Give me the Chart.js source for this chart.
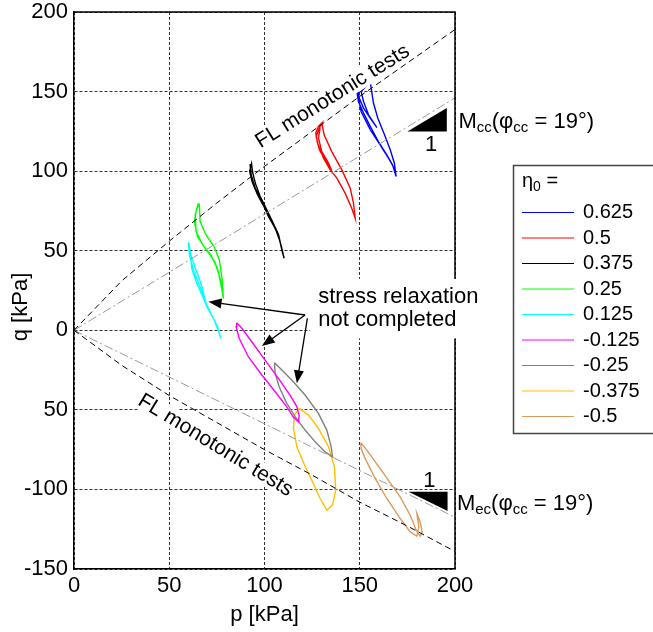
<!DOCTYPE html>
<html lang="en">
<head>
  <meta charset="UTF-8">
  <title>Stress paths p-q</title>
  <script src="https://cdn.jsdelivr.net/npm/chart.js"></script>
  <style>
    html, body { margin: 0; padding: 0; background: #fff; }
    #wrap { width: 653px; height: 632px; position: relative; }
  </style>
</head>
<body>
<div id="wrap"><canvas id="pq"></canvas></div>
<script>
  // axes
  const xTickValues = [0, 50, 100, 150, 200];
  const yTickValues = [-150, -100, -50, 0, 50, 100, 150, 200];
  const yTickText = ['-150', '-100', '50', '0', '50', '100', '150', '200'];

  // legend
  const etaLabels = ['0.625', '0.5', '0.375', '0.25', '0.125', '-0.125', '-0.25', '-0.375', '-0.5'];
  const etaColors = ['#0000ff', '#ff0000', '#000000', '#00ff00', '#00ffff', '#ff00ff', '#808080', '#ffbf00', '#d99a5e'];

  // failure lines from monotonic tests, and the M lines (p, q)
  const flCompression = [[0, 0], [25, 31], [50, 56], [75, 80], [100, 103], [125, 125], [150, 147], [175, 168], [200, 189]];
  const flExtension = [[0, 0], [25, -22], [50, -41], [75, -58], [100, -75], [125, -91], [150, -108], [175, -123], [200, -139]];
  const mccLine = [[0, 0], [200, 146]];
  const mecLine = [[0, 0], [200, -117.5]];

  // stress paths (p, q)
  const path0625 = [[169.1, 96.6], [168.2, 105.0], [166.0, 113.4], [163.0, 122.8], [159.5, 133.3], [157.2, 142.8], [156.0, 152.2], [155.5, 156.0],
    [152.8, 153.8], [149.7, 151.1], [148.6, 149.1], [149.3, 143.8], [152.0, 136.5], [155.5, 128.1], [159.8, 118.6], [164.2, 110.3], [167.2, 104.0],
    [169.1, 96.6], [168.6, 100.8], [165.1, 108.2], [160.7, 116.5], [155.5, 126.0], [150.7, 137.5], [149.0, 148.0], [149.3, 150.5],
    [149.7, 145.9], [152.0, 139.6], [155.5, 133.3], [159.0, 127.4], [154.6, 135.4], [152.0, 143.8], [150.7, 150.1], [154.0, 154.3]];
  const path05 = [[130.1, 130.2], [131.3, 122.8], [135.3, 112.3], [140.6, 100.8], [145.0, 89.3], [146.7, 79.9], [147.6, 70.4],
    [145.8, 76.7], [142.3, 86.2], [138.0, 95.6], [134.5, 100.8], [131.0, 108.2], [127.8, 117.6], [126.9, 123.9], [128.3, 128.1], [130.1, 130.2],
    [128.6, 126.5], [127.1, 121.8], [128.8, 113.4], [132.4, 106.0], [135.3, 100.2], [133.6, 105.0], [130.1, 112.3], [128.3, 120.8], [129.2, 127.0]];
  const path0375 = [[92.4, 104.4], [93.0, 97.7], [95.1, 89.3], [98.6, 80.9], [102.1, 71.4], [105.6, 64.2], [108.2, 55.7], [110.3, 45.3],
    [109.2, 50.0], [107.4, 60.0], [104.3, 68.0], [100.9, 76.5], [97.6, 84.5], [95.3, 92.0], [93.8, 99.0], [93.2, 104.8],
    [92.2, 100.0], [93.6, 93.0], [96.4, 85.0], [100.0, 77.0], [103.2, 69.5], [106.6, 61.5], [108.8, 53.0], [110.3, 45.3]];
  const path025 = [[65.3, 79.9], [63.6, 72.5], [64.1, 62.0], [67.6, 53.6], [71.8, 47.4], [75.3, 39.0], [77.2, 28.5], [78.4, 20.1],
    [77.7, 32.7], [76.3, 44.2], [73.5, 52.6], [69.3, 59.9], [66.2, 68.3], [65.8, 78.8],
    [64.4, 76.7], [63.2, 68.3], [64.8, 58.9], [68.8, 51.6], [73.9, 43.1], [76.7, 32.7], [78.1, 22.2]];
  const path0125 = [[60.0, 55.3], [60.6, 47.4], [62.7, 37.9], [65.8, 28.5], [67.9, 22.2], [69.7, 15.9], [72.3, 9.6], [75.3, 2.3], [77.0, -5.0],
    [76.0, -0.9], [73.2, 7.5], [69.7, 14.8], [67.6, 21.1], [64.4, 29.6], [61.8, 39.0], [61.0, 49.4], [60.3, 54.8],
    [61.3, 47.4], [64.1, 37.9], [67.2, 27.4], [68.6, 20.1]];
  const pathM0125 = [[85.4, 4.8], [88.1, 1.3], [93.3, -7.2], [100.3, -18.7], [107.3, -30.2], [113.4, -40.7], [117.0, -48.1], [118.2, -53.9], [117.8, -57.5],
    [115.2, -54.7], [111.7, -48.1], [105.6, -38.6], [98.6, -28.1], [91.5, -16.6], [86.7, -5.0], [85.1, 2.3], [85.4, 4.8]];
  const pathM025 = [[105.2, -20.4], [108.2, -23.9], [114.3, -31.3], [121.3, -40.7], [128.3, -52.2], [132.7, -62.7], [135.0, -73.2], [135.7, -79.5],
    [131.8, -76.4], [126.6, -70.1], [121.3, -62.7], [116.1, -54.3], [111.7, -45.9], [107.7, -35.5], [105.6, -27.0], [105.2, -20.4]];
  const pathM0375 = [[118.2, -49.1], [115.7, -53.3], [115.2, -61.6], [117.0, -73.2], [121.0, -84.7], [125.2, -95.2], [129.2, -105.7], [132.7, -113.0],
    [135.7, -109.9], [137.4, -100.4], [136.7, -85.8], [133.6, -73.2], [128.3, -61.6], [123.1, -53.3], [118.2, -49.1]];
  const pathM05 = [[150.6, -70.7], [153.7, -75.3], [162.5, -89.9], [171.2, -104.7], [176.5, -116.2], [179.6, -125.6], [181.7, -129.4],
    [182.8, -126.7], [181.7, -120.4], [180.0, -115.1], [181.0, -123.5], [180.0, -129.4], [176.5, -126.7], [171.2, -118.2],
    [164.2, -105.7], [158.1, -93.1], [152.8, -80.5], [150.7, -74.2], [150.6, -70.7]];

  const paths = [path0625, path05, path0375, path025, path0125, pathM0125, pathM025, pathM0375, pathM05];

  const FONT = 'Liberation Sans, Arial, Helvetica, sans-serif';
  const toXY = arr => arr.map(d => ({ x: d[0], y: d[1] }));

  const datasets = [
    { label: 'FL', data: toXY(flCompression), borderColor: '#000', borderWidth: 1, borderDash: [6, 4] },
    { label: 'FL ext', data: toXY(flExtension), borderColor: '#000', borderWidth: 1, borderDash: [6, 4] },
    { label: 'Mcc', data: toXY(mccLine), borderColor: '#999', borderWidth: 1, borderDash: [9, 3, 2, 3] },
    { label: 'Mec', data: toXY(mecLine), borderColor: '#999', borderWidth: 1, borderDash: [9, 3, 2, 3] }
  ];
  paths.forEach((p, i) => {
    datasets.push({ label: etaLabels[i], data: toXY(p), borderColor: etaColors[i], borderWidth: 1.4 });
  });
  datasets.forEach(d => { d.showLine = true; d.pointRadius = 0; d.fill = false; d.tension = 0; });

  // text with a white box behind it
  function boxedText(ctx, txt, x, y, angle) {
    ctx.save();
    ctx.translate(x, y);
    ctx.rotate(angle * Math.PI / 180);
    const w = ctx.measureText(txt).width;
    ctx.fillStyle = '#fff';
    ctx.fillRect(-w / 2 - 2, -17, w + 4, 21);
    ctx.fillStyle = '#000';
    ctx.textAlign = 'center';
    ctx.textBaseline = 'alphabetic';
    ctx.fillText(txt, 0, 0);
    ctx.restore();
  }

  // text with subscripts: parts = [[text, isSub], ...]
  function richText(ctx, x, y, parts, size, subSize) {
    let cx = x;
    ctx.textAlign = 'left';
    ctx.textBaseline = 'alphabetic';
    parts.forEach(([t, sub]) => {
      ctx.font = (sub ? subSize : size) + 'px ' + FONT;
      ctx.fillText(t, cx, sub ? y + 4 : y);
      cx += ctx.measureText(t).width;
    });
  }

  function arrow(ctx, x1, y1, x2, y2) {
    const ang = Math.atan2(y2 - y1, x2 - x1);
    const L = 13, W = 5;
    ctx.beginPath();
    ctx.moveTo(x1, y1);
    ctx.lineTo(x2 - L * Math.cos(ang) * 0.8, y2 - L * Math.sin(ang) * 0.8);
    ctx.stroke();
    ctx.beginPath();
    ctx.moveTo(x2, y2);
    ctx.lineTo(x2 - L * Math.cos(ang) - W * Math.sin(ang), y2 - L * Math.sin(ang) + W * Math.cos(ang));
    ctx.lineTo(x2 - L * Math.cos(ang) + W * Math.sin(ang), y2 - L * Math.sin(ang) - W * Math.cos(ang));
    ctx.closePath();
    ctx.fill();
  }

  const overlay = {
    id: 'overlay',
    afterDraw(chart) {
      const ctx = chart.ctx, a = chart.chartArea;
      const X = v => chart.scales.x.getPixelForValue(v);
      const Y = v => chart.scales.y.getPixelForValue(v);
      ctx.save();

      // top and right of the box
      ctx.strokeStyle = '#000';
      ctx.lineWidth = 1.5;
      ctx.beginPath();
      ctx.moveTo(a.left, a.top);
      ctx.lineTo(a.right, a.top);
      ctx.lineTo(a.right, a.bottom);
      ctx.stroke();

      // FL labels
      ctx.font = '21px ' + FONT;
      boxedText(ctx, 'FL monotonic tests', X(137.4), Y(143.8), -32);
      boxedText(ctx, 'FL monotonic tests', X(72.6), Y(-75.4), 31.5);

      // stress relaxation note
      ctx.font = '22px ' + FONT;
      const tx = X(128.2), b1 = Y(17.2), b2 = Y(2.4);
      const tw = Math.max(ctx.measureText('stress relaxation').width, ctx.measureText('not completed').width);
      ctx.fillStyle = '#fff';
      ctx.fillRect(tx - 8, b1 - 24, tw + 14, b2 - b1 + 36);
      ctx.fillStyle = '#000';
      ctx.textAlign = 'left';
      ctx.fillText('stress relaxation', tx, b1);
      ctx.fillText('not completed', tx, b2);

      ctx.strokeStyle = '#000';
      ctx.fillStyle = '#000';
      ctx.lineWidth = 1.3;
      arrow(ctx, X(121.3), Y(9.6), X(70.6), Y(18.0));
      arrow(ctx, X(121.3), Y(9.6), X(98.6), Y(-9.9));
      arrow(ctx, X(122.5), Y(7.5), X(117.0), Y(-33.3));

      // slope triangles
      ctx.beginPath();
      ctx.moveTo(X(175), Y(124.9)); ctx.lineTo(X(195.7), Y(124.9)); ctx.lineTo(X(195.7), Y(139.6));
      ctx.closePath(); ctx.fill();
      ctx.beginPath();
      ctx.moveTo(X(175.6), Y(-101.5)); ctx.lineTo(X(196.1), Y(-101.5)); ctx.lineTo(X(196.1), Y(-113.5));
      ctx.closePath(); ctx.fill();

      ctx.font = '22px ' + FONT;
      ctx.textAlign = 'center';
      ctx.fillText('1', X(187.5), Y(112.5));
      ctx.fillText('1', X(186.5), Y(-98.4));
      richText(ctx, X(201.8), Y(127.0), [['M', 0], ['cc', 1], ['(\u03c6', 0], ['cc', 1], [' = 19\u00b0)', 0]], 22, 15);
      richText(ctx, X(201.0), Y(-113.0), [['M', 0], ['ec', 1], ['(\u03c6', 0], ['cc', 1], [' = 19\u00b0)', 0]], 22, 15);

      // axis titles
      ctx.font = '22px ' + FONT;
      ctx.textAlign = 'center';
      ctx.textBaseline = 'middle';
      ctx.fillText('p [kPa]', (a.left + a.right) / 2, 615);
      ctx.save();
      ctx.translate(21, 307);
      ctx.rotate(-Math.PI / 2);
      ctx.fillText('q [kPa]', 0, 0);
      ctx.restore();

      // legend
      ctx.strokeStyle = '#444';
      ctx.lineWidth = 1.5;
      ctx.strokeRect(513.5, 165.5, 200, 268);
      ctx.textBaseline = 'alphabetic';
      richText(ctx, 522, 187, [['\u03b7', 0], ['0', 1], [' =', 0]], 20, 14);
      ctx.font = '20px ' + FONT;
      ctx.textBaseline = 'middle';
      ctx.textAlign = 'left';
      etaLabels.forEach((lab, i) => {
        const y = 212.5 + i * 25.5;
        ctx.strokeStyle = etaColors[i];
        ctx.lineWidth = 1;
        ctx.beginPath();
        ctx.moveTo(522, y);
        ctx.lineTo(574, y);
        ctx.stroke();
        ctx.fillStyle = '#000';
        ctx.fillText(lab, 583, y);
      });
      ctx.restore();
    }
  };

  const ctx = document.getElementById('pq').getContext('2d');
  const chart = new Chart(ctx, {
    type: 'scatter',
    data: { datasets: datasets },
    options: {
      responsive: true,
      maintainAspectRatio: false,
      animation: false,
      devicePixelRatio: 1,
      layout: { padding: { left: 0, right: 198, top: 12, bottom: 0 } },
      plugins: { legend: { display: false }, tooltip: { enabled: false } },
      scales: {
        x: {
          type: 'linear', min: 0, max: 200,
          afterFit: s => { s.height = 63; s.paddingLeft = 0; s.paddingRight = 0; },
          ticks: { stepSize: 50, padding: 4, color: '#000', font: { family: FONT, size: 22 } },
          grid: { color: '#333', lineWidth: 1, drawTicks: false },
          border: { display: true, color: '#000', width: 1.5, dash: [3, 2] }
        },
        y: {
          type: 'linear', min: -150, max: 200,
          afterFit: s => { s.width = 74; s.paddingTop = 0; s.paddingBottom = 0; },
          ticks: {
            stepSize: 50, padding: 6, color: '#000', font: { family: FONT, size: 22 },
            callback: v => { const i = yTickValues.indexOf(v); return i >= 0 ? yTickText[i] : ''; }
          },
          grid: { color: '#333', lineWidth: 1, drawTicks: false },
          border: { display: true, color: '#000', width: 1.5, dash: [3, 2] }
        }
      }
    },
    plugins: [overlay]
  });
</script>
</body>
</html>
